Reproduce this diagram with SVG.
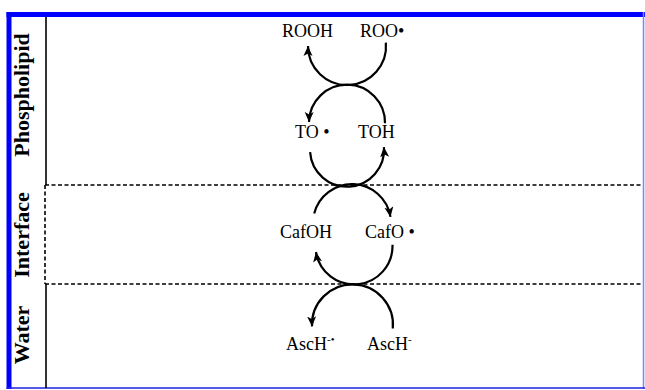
<svg xmlns="http://www.w3.org/2000/svg" width="645" height="390" viewBox="0 0 645 390">
<style>
.chem{font-family:"Liberation Serif","Times New Roman",serif;font-size:18px;fill:#000}
.sup{font-size:11px}
.layer{font-family:"Liberation Serif","Times New Roman",serif;font-size:22px;font-weight:bold;fill:#000;text-anchor:middle}
.arc{fill:none;stroke:#000;stroke-width:2.2}
.dash{stroke:#000;stroke-width:1.6;stroke-dasharray:4 2.5;fill:none}
.solid{stroke:#000;stroke-width:1.6;fill:none}
</style>
<defs>
<marker id="ah" markerUnits="userSpaceOnUse" markerWidth="12" markerHeight="10" refX="10" refY="4.5" orient="auto">
<path d="M0,0 L10,4.5 L0,9 L2.5,4.5 z" fill="#000"/>
</marker>
</defs>
<rect x="0" y="0" width="645" height="390" fill="#fff"/>
<g id="frame">
<rect x="6.5" y="12" width="638.5" height="5" fill="#0000ff"/>
<rect x="6.5" y="12" width="5" height="377" fill="#0000ff"/>
<line x1="643.5" y1="12" x2="643.5" y2="389" stroke="#8080ff" stroke-width="1.5"/>
<line x1="6.5" y1="388" x2="645" y2="388" stroke="#2020e0" stroke-width="1.6"/>
</g>
<g id="boundaries">
<line class="solid" x1="46" y1="17" x2="46" y2="185"/>
<line class="dash" x1="45" y1="185" x2="45" y2="284"/>
<line class="solid" x1="46" y1="284" x2="46" y2="388"/>
<line class="dash" x1="45" y1="185" x2="643" y2="185"/>
<line class="dash" x1="45" y1="284" x2="643" y2="284"/>
</g>
<g id="layer-labels">
<text class="layer" transform="translate(29,95) rotate(-90)">Phospholipid</text>
<text class="layer" transform="translate(29,235) rotate(-90)">Interface</text>
<text class="layer" transform="translate(29,335) rotate(-90)">Water</text>
</g>
<g id="connectors">
<path class="arc" d="M385.85,42.6 A39,39 0 1 1 308,46" marker-end="url(#ah)"/>
<path class="arc" d="M385,123.3 A38,38 0 0 0 309,122" marker-end="url(#ah)"/>
<path class="arc" d="M310.1,152.2 A37,37 0 0 0 383.95,147.1" marker-end="url(#ah)"/>
<path class="arc" d="M314.2,213.6 A39,39 0 0 1 390.5,216.9" marker-end="url(#ah)"/>
<path class="arc" d="M392.5,244.7 A38.5,38.5 0 0 1 316,252" marker-end="url(#ah)"/>
<path class="arc" d="M392.8,328.5 A40.5,40.5 0 1 0 312,326.4" marker-end="url(#ah)"/>
</g>
<g id="ROOH"><text class="chem" x="282" y="37">ROOH</text></g>
<g id="ROO"><text class="chem" x="360" y="37">ROO•</text></g>
<g id="TO"><text class="chem" x="295" y="138">TO •</text></g>
<g id="TOH"><text class="chem" x="358" y="138">TOH</text></g>
<g id="CafOH"><text class="chem" x="280" y="238">CafOH</text></g>
<g id="CafO"><text class="chem" x="365" y="238">CafO •</text></g>
<g id="AscH-rad"><text class="chem" x="286" y="350">AscH<tspan class="sup" dy="-7">-•</tspan></text></g>
<g id="AscH-"><text class="chem" x="367" y="350">AscH<tspan class="sup" dy="-7">-</tspan></text></g>
</svg>
